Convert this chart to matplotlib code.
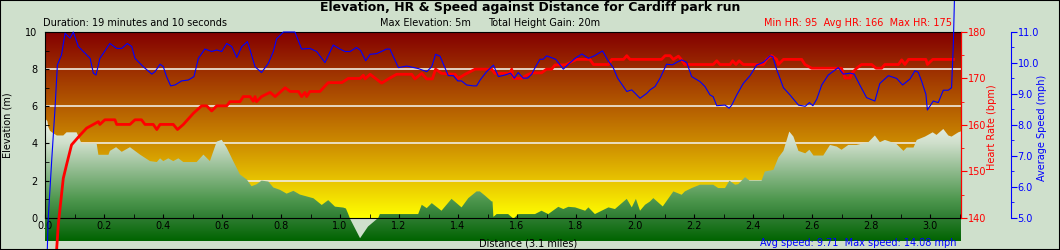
import matplotlib.pyplot as plt
import numpy as np
from matplotlib.colors import LinearSegmentedColormap
from matplotlib.ticker import MultipleLocator, FormatStrFormatter
from matplotlib.patches import Rectangle, Polygon

# Elevation / HR / speed profile, Cardiff park run

bg = '#cfe0cc'
x_max = 3.105

# elevation (m) against distance (miles)
elev_x = [0.0, 0.008, 0.011, 0.017, 0.028, 0.040, 0.062, 0.073, 0.107, 0.124, 0.175, 0.181,
          0.215, 0.220, 0.241, 0.260, 0.288, 0.322, 0.356, 0.379, 0.390, 0.401, 0.418, 0.435,
          0.452, 0.469, 0.514, 0.537, 0.559, 0.582, 0.599, 0.616, 0.638, 0.661, 0.684, 0.700,
          0.717, 0.734, 0.757, 0.774, 0.797, 0.819, 0.842, 0.864, 0.887, 0.910, 0.938, 0.960,
          0.983, 1.011, 1.020, 1.028, 1.034, 1.068, 1.095, 1.130, 1.135, 1.265, 1.277, 1.294,
          1.311, 1.344, 1.378, 1.412, 1.435, 1.463, 1.474, 1.491, 1.514, 1.517, 1.520, 1.531,
          1.570, 1.588, 1.605, 1.661, 1.683, 1.706, 1.740, 1.757, 1.774, 1.797, 1.831, 1.842,
          1.864, 1.910, 1.932, 1.972, 1.989, 2.003, 2.017, 2.034, 2.051, 2.062, 2.094, 2.130,
          2.158, 2.169, 2.192, 2.220, 2.265, 2.282, 2.305, 2.320, 2.339, 2.350, 2.373, 2.388,
          2.429, 2.440, 2.469, 2.486, 2.503, 2.523, 2.537, 2.554, 2.577, 2.591, 2.605, 2.638,
          2.661, 2.684, 2.700, 2.723, 2.751, 2.774, 2.791, 2.813, 2.830, 2.847, 2.864, 2.887,
          2.910, 2.921, 2.944, 2.955, 2.983, 3.009, 3.022, 3.045, 3.062, 3.073, 3.096, 3.105]
elev = [5.36, 5.2, 4.9, 4.68, 4.55, 4.43, 4.43, 4.6, 4.6, 4.0, 4.0, 3.39,
        3.39, 3.6, 3.8, 3.55, 3.8, 3.4, 3.05, 3.0, 3.2, 3.05, 3.2, 3.05,
        3.2, 3.0, 3.0, 3.4, 3.05, 4.1, 4.2, 3.77, 3.05, 2.33, 2.06, 1.7,
        1.8, 2.0, 1.95, 1.63, 1.5, 1.3, 1.45, 1.25, 1.15, 1.05, 0.69, 0.95,
        0.6, 0.55, 0.5, 0.2, -0.05, -1.1, -0.47, 0.0, 0.2, 0.2, 0.7, 0.52,
        0.79, 0.38, 1.02, 0.56, 1.06, 1.42, 1.42, 1.2, 0.88, 0.88, 0.05, 0.2,
        0.2, -0.05, 0.2, 0.2, 0.38, 0.2, 0.59, 0.47, 0.59, 0.56, 0.38, 0.56,
        0.2, 0.56, 0.47, 1.02, 0.56, 1.02, 0.38, 0.7, 0.88, 1.06, 0.61, 1.42,
        1.24, 1.42, 1.6, 1.78, 1.78, 1.6, 1.6, 2.0, 1.78, 1.81, 2.19, 2.0,
        2.0, 2.49, 2.58, 3.24, 3.6, 4.64, 4.37, 3.6, 3.47, 3.66, 3.35, 3.35,
        3.92, 3.83, 3.66, 3.92, 3.92, 4.01, 4.07, 4.43, 4.07, 4.19, 4.1, 3.96,
        3.6, 3.78, 3.78, 4.19, 4.37, 4.6, 4.46, 4.78, 4.43, 4.37, 4.6, 4.65]

# heart rate (bpm)
hr_x = [0.0, 0.045, 0.062, 0.073, 0.090, 0.119, 0.141, 0.164, 0.181, 0.186, 0.203, 0.237,
        0.243, 0.288, 0.305, 0.327, 0.339, 0.367, 0.379, 0.390, 0.435, 0.449, 0.469, 0.503,
        0.531, 0.548, 0.565, 0.582, 0.616, 0.627, 0.661, 0.672, 0.695, 0.706, 0.712, 0.717,
        0.734, 0.763, 0.780, 0.814, 0.831, 0.859, 0.870, 0.881, 0.887, 0.898, 0.932, 0.960,
        1.006, 1.028, 1.068, 1.079, 1.085, 1.102, 1.141, 1.164, 1.192, 1.243, 1.254, 1.277,
        1.294, 1.313, 1.324, 1.344, 1.390, 1.401, 1.424, 1.458, 1.514, 1.525, 1.576, 1.582,
        1.588, 1.616, 1.633, 1.650, 1.683, 1.700, 1.717, 1.729, 1.763, 1.802, 1.847, 1.859,
        1.910, 1.921, 1.961, 1.972, 1.983, 2.090, 2.102, 2.119, 2.130, 2.147, 2.158, 2.169,
        2.265, 2.277, 2.288, 2.322, 2.331, 2.342, 2.353, 2.367, 2.435, 2.446, 2.463, 2.480,
        2.486, 2.503, 2.565, 2.576, 2.599, 2.700, 2.712, 2.729, 2.735, 2.751, 2.768, 2.802,
        2.817, 2.836, 2.847, 2.893, 2.904, 2.915, 2.927, 2.986, 2.991, 3.009, 3.079]
hr = [95, 138.5, 148.5, 151.4, 155.7, 157.8, 159.3, 160.1, 160.7, 160.1, 161.1, 161.1,
      160.1, 160.1, 161.1, 161.1, 160.1, 160.1, 159.0, 160.1, 160.1, 159.0, 160.1, 162.5,
      164.1, 164.1, 163.0, 164.1, 164.1, 165.0, 165.0, 166.1, 166.1, 165.1, 166.1, 165.0,
      166.1, 167.0, 166.1, 168.0, 167.2, 167.2, 166.1, 167.0, 166.1, 167.2, 167.2, 169.1,
      169.1, 170.0, 170.0, 170.7, 169.9, 170.9, 169.0, 169.9, 170.9, 170.9, 169.9, 171.1,
      169.9, 169.9, 172.0, 171.1, 170.9, 170.0, 170.9, 172.0, 172.0, 171.1, 171.1, 172.0,
      170.0, 170.0, 170.7, 171.2, 171.2, 172.0, 172.0, 172.9, 172.9, 174.1, 174.1, 173.0,
      173.0, 174.1, 174.1, 174.9, 174.1, 174.1, 174.9, 174.9, 174.1, 174.8, 174.0, 173.0,
      173.0, 173.8, 173.0, 173.0, 173.8, 173.0, 173.8, 173.0, 173.0, 174.1, 174.9, 174.1,
      173.0, 174.1, 174.1, 173.0, 172.2, 172.2, 170.1, 170.1, 171.1, 172.2, 173.0, 173.0,
      172.2, 172.2, 173.0, 173.0, 174.0, 173.0, 174.1, 174.1, 173.0, 174.1, 174.1]

# average speed (mph)
spd_x = [0.0, 0.011, 0.023, 0.034, 0.042, 0.056, 0.068, 0.085, 0.096, 0.113, 0.136, 0.153,
         0.164, 0.173, 0.186, 0.220, 0.243, 0.260, 0.279, 0.294, 0.305, 0.333, 0.362, 0.373,
         0.390, 0.401, 0.412, 0.426, 0.441, 0.463, 0.486, 0.505, 0.520, 0.542, 0.565, 0.582,
         0.599, 0.616, 0.633, 0.650, 0.667, 0.686, 0.695, 0.712, 0.734, 0.757, 0.774, 0.785,
         0.808, 0.847, 0.870, 0.898, 0.921, 0.949, 0.977, 1.000, 1.017, 1.034, 1.056, 1.070,
         1.087, 1.102, 1.124, 1.158, 1.169, 1.198, 1.226, 1.265, 1.294, 1.311, 1.324, 1.339,
         1.367, 1.384, 1.399, 1.412, 1.429, 1.452, 1.463, 1.475, 1.497, 1.520, 1.537, 1.559,
         1.578, 1.591, 1.604, 1.621, 1.636, 1.650, 1.663, 1.678, 1.689, 1.700, 1.731, 1.757,
         1.774, 1.797, 1.820, 1.842, 1.862, 1.890, 1.909, 1.926, 1.941, 1.972, 1.989, 2.017,
         2.040, 2.051, 2.068, 2.085, 2.107, 2.127, 2.141, 2.158, 2.175, 2.192, 2.220, 2.237,
         2.254, 2.265, 2.277, 2.305, 2.319, 2.328, 2.345, 2.367, 2.390, 2.412, 2.435, 2.458,
         2.467, 2.478, 2.503, 2.525, 2.554, 2.577, 2.591, 2.603, 2.616, 2.633, 2.655, 2.689,
         2.706, 2.729, 2.743, 2.762, 2.785, 2.813, 2.830, 2.859, 2.887, 2.907, 2.932, 2.949,
         2.960, 2.972, 2.986, 2.991, 3.011, 3.028, 3.045, 3.062, 3.073, 3.079, 3.088]
spd = [1.5, 4.99, 6.9, 8.54, 9.94, 10.26, 10.96, 10.8, 11.0, 10.53, 10.31, 10.15,
       9.67, 9.61, 10.15, 10.63, 10.47, 10.47, 10.63, 10.53, 10.15, 9.88, 9.64, 9.72,
       9.96, 9.88, 9.56, 9.26, 9.29, 9.42, 9.45, 9.56, 10.15, 10.45, 10.37, 10.42,
       10.37, 10.63, 10.53, 10.18, 10.53, 10.69, 10.42, 9.88, 9.69, 9.99, 10.37, 10.78,
       11.0, 11.0, 10.45, 10.47, 10.37, 10.01, 10.58, 10.45, 10.37, 10.37, 10.5, 10.4,
       10.07, 10.28, 10.3, 10.45, 10.45, 9.85, 9.9, 9.82, 9.72, 9.88, 10.28, 10.22,
       9.59, 9.59, 9.42, 9.42, 9.29, 9.26, 9.26, 9.45, 9.72, 9.93, 9.56, 9.61,
       9.67, 9.51, 9.69, 9.51, 9.51, 9.64, 9.88, 10.12, 10.12, 10.23, 10.12, 9.8,
       9.96, 10.15, 10.29, 10.15, 10.23, 10.39, 10.07, 9.85, 9.51, 9.08, 9.13, 8.86,
       9.02, 9.13, 9.24, 9.51, 9.96, 9.94, 10.02, 10.1, 10.02, 9.56, 9.4, 9.24,
       8.97, 8.91, 8.62, 8.64, 8.54, 8.64, 8.97, 9.34, 9.59, 9.93, 10.02, 10.23,
       10.2, 9.85, 9.2, 8.97, 8.64, 8.6, 8.72, 8.62, 8.83, 9.29, 9.61, 9.85,
       9.64, 9.67, 9.64, 9.29, 8.88, 8.77, 9.34, 9.59, 9.5, 9.29, 9.48, 9.75,
       9.7, 9.4, 8.99, 8.48, 8.77, 8.72, 9.12, 9.12, 9.2, 10.6, 14.08]

fig = plt.figure(figsize=(10.6, 2.5), dpi=100, facecolor=bg)
ax = fig.add_axes([45 / 1060, 9 / 250, 916 / 1060, 209 / 250])
ax.set_facecolor(bg)
ax.set_axisbelow(False)
ax.set_xlim(0, x_max)
ax.set_ylim(-1.25, 10)

# background gradient red -> yellow
bg_cmap = LinearSegmentedColormap.from_list('bg', [
    (0.0, '#ffff00'), (0.2, '#e8c400'), (0.4, '#cd8c00'),
    (0.6, '#b45c00'), (0.8, '#9c2e00'), (1.0, '#840000')])
ax.imshow(np.linspace(0, 1, 256).reshape(-1, 1), extent=[0, x_max, 0, 10], origin='lower',
          aspect='auto', cmap=bg_cmap, zorder=0)
for g in [2, 4, 6, 8]:
    ax.axhline(g, color='#f0ece0', lw=1.2, zorder=1)

# elevation area with white -> green gradient
bottom = -1.25
verts = [(elev_x[0], bottom)] + list(zip(elev_x, elev)) + [(elev_x[-1], bottom)]
poly = Polygon(verts, closed=True, facecolor='none', edgecolor='none', transform=ax.transData)
ax.add_patch(poly)
top_e = 5.5
el_cmap = LinearSegmentedColormap.from_list('el', [
    (0.0, '#006400'), ((0 - bottom) / (top_e - bottom), '#2e7d32'),
    ((1 - bottom) / (top_e - bottom), '#4f984f'), ((2.5 - bottom) / (top_e - bottom), '#8fba8d'),
    ((4 - bottom) / (top_e - bottom), '#cfdfcb'), (1.0, '#f2f6f1')])
im = ax.imshow(np.linspace(0, 1, 256).reshape(-1, 1), extent=[0, x_max, bottom, top_e],
               origin='lower', aspect='auto', cmap=el_cmap, zorder=2)
im.set_clip_path(poly)
ax.set_xlim(0, x_max)
ax.set_ylim(-1.25, 10)

ax.spines['bottom'].set_position(('data', 0))
ax.spines['left'].set_bounds(0, 10)
ax.spines['right'].set_bounds(0, 10)
for s in ax.spines.values():
    s.set_zorder(5)
ax.xaxis.set_major_locator(MultipleLocator(0.2))
ax.xaxis.set_minor_locator(MultipleLocator(0.1))
ax.xaxis.set_major_formatter(FormatStrFormatter('%.1f'))
ax.set_yticks([0, 2, 4, 6, 8, 10])
ax.set_yticks([1, 3, 5, 7, 9], minor=True)
ax.tick_params(axis='both', which='both', direction='in', length=3, labelsize=7)
ax.tick_params(axis='x', pad=2)
ax.tick_params(axis='y', pad=5.5)

# heart rate axis
ax2 = ax.twinx()
ax2.set_ylim(135, 180)
for k in ['left', 'top', 'bottom']:
    ax2.spines[k].set_visible(False)
ax2.spines['right'].set_bounds(140, 180)
ax2.spines['right'].set_color('red')
ax2.set_yticks([140, 150, 160, 170, 180])
ax2.set_yticks([145, 155, 165, 175], minor=True)
ax2.tick_params(axis='y', which='major', direction='out', length=4, colors='red', labelsize=7, pad=1)
ax2.tick_params(axis='y', which='minor', direction='out', length=2.5, colors='red')
ax2.plot(hr_x, hr, color='#ff0000', lw=2, clip_on=False, zorder=3)

# speed axis
ax3 = ax.twinx()
ax3.set_ylim(4.25, 11)
for k in ['left', 'top', 'bottom']:
    ax3.spines[k].set_visible(False)
ax3.spines['right'].set_position(('axes', 1.0543))
ax3.spines['right'].set_bounds(5, 11)
ax3.spines['right'].set_color('blue')
ax3.set_yticks([5, 6, 7, 8, 9, 10, 11])
ax3.set_yticks([5.5, 6.5, 7.5, 8.5, 9.5, 10.5], minor=True)
ax3.yaxis.set_major_formatter(FormatStrFormatter('%.1f'))
ax3.tick_params(axis='y', which='major', direction='out', length=4, colors='blue', labelsize=7, pad=1)
ax3.tick_params(axis='y', which='minor', direction='out', length=2.5, colors='blue')
ax3.plot(spd_x, spd, color='#0000ff', lw=0.8, clip_on=False, zorder=3)

# texts
fig.text(0.5, 0.968, 'Elevation, HR & Speed against Distance for Cardiff park run',
         ha='center', va='center', fontsize=9, fontweight='bold')
fig.text(43 / 1060, 0.908, 'Duration: 19 minutes and 10 seconds', ha='left', va='center', fontsize=7)
fig.text(380 / 1060, 0.908, 'Max Elevation: 5m', ha='left', va='center', fontsize=7)
fig.text(488 / 1060, 0.908, 'Total Height Gain: 20m', ha='left', va='center', fontsize=7)
fig.text(952 / 1060, 0.908, 'Min HR: 95  Avg HR: 166  Max HR: 175', ha='right', va='center',
         fontsize=7, color='red')
fig.text(528 / 1060, 7 / 250, 'Distance (3.1 miles)', ha='center', va='center', fontsize=7)
fig.text(956 / 1060, 7 / 250, 'Avg speed: 9.71  Max speed: 14.08 mph', ha='right', va='center',
         fontsize=7, color='blue')
fig.text(8 / 1060, 0.5, 'Elevation (m)', rotation=90, ha='center', va='center', fontsize=7)
fig.text(992 / 1060, 0.49, 'Heart Rate (bpm)', rotation=90, ha='center', va='center',
         fontsize=7, color='red')
fig.text(1042 / 1060, 0.49, 'Average Speed (mph)', rotation=90, ha='center', va='center',
         fontsize=7, color='blue')

fig.add_artist(Rectangle((0, 0), 1, 1, transform=fig.transFigure, fill=False, ec='black', lw=1.5))

fig.savefig('out.png', dpi=100, facecolor=bg)
